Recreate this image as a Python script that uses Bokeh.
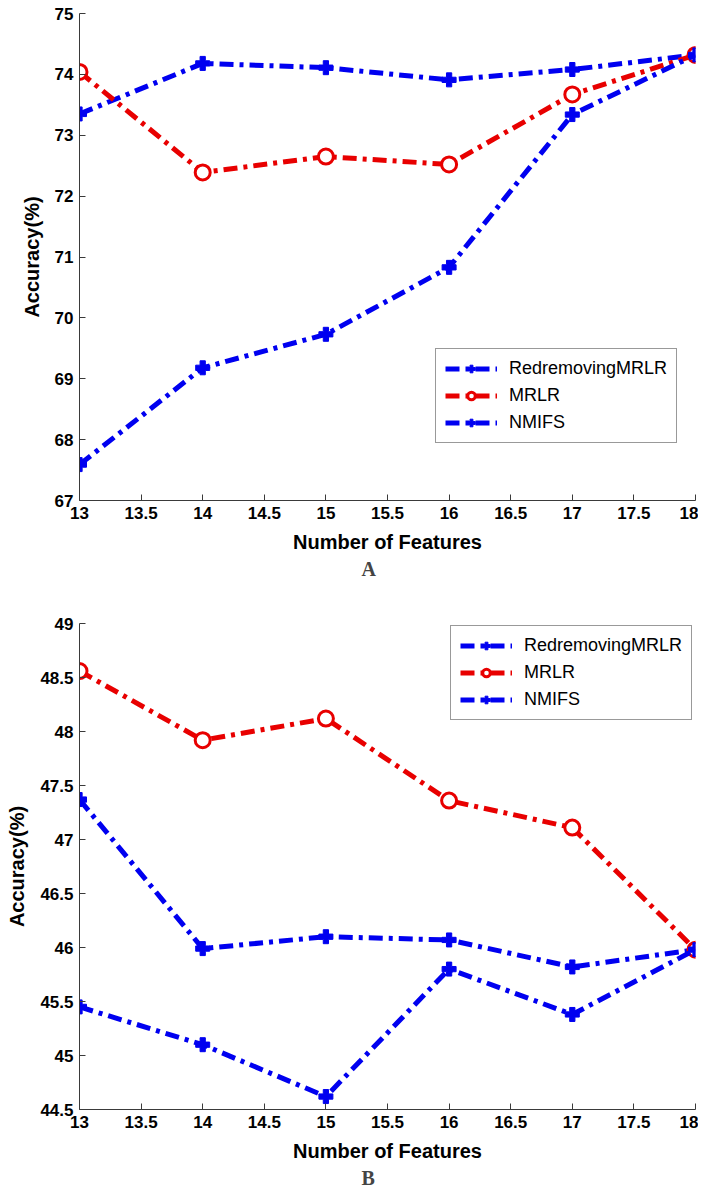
from bokeh.plotting import figure
from bokeh.models import Legend, LegendItem, FixedTicker, NumeralTickFormatter, Title, Range1d
from bokeh.layouts import column
from bokeh.embed import file_html
from bokeh.resources import INLINE

# ---------------- data ----------------
features = [13, 14, 15, 16, 17, 18]
series_names = ["RedremovingMRLR", "MRLR", "NMIFS"]

a_redremoving = [73.35, 74.18, 74.11, 73.91, 74.08, 74.32]
a_mrlr = [74.04, 72.39, 72.65, 72.52, 73.67, 74.32]
a_nmifs = [67.59, 69.18, 69.73, 70.83, 73.34, 74.32]

b_redremoving = [47.37, 45.99, 46.10, 46.07, 45.82, 45.98]
b_mrlr = [48.56, 47.92, 48.12, 47.36, 47.11, 45.98]
b_nmifs = [45.45, 45.10, 44.62, 45.80, 45.38, 45.98]

x_ticks = [13, 13.5, 14, 14.5, 15, 15.5, 16, 16.5, 17, 17.5, 18]
a_y_ticks = [67, 68, 69, 70, 71, 72, 73, 74, 75]
b_y_ticks = [44.5, 45, 45.5, 46, 46.5, 47, 47.5, 48, 48.5, 49]
captions = ["A", "B"]

BLUE = "#0000f0"
RED = "#e80000"
FONT = "Liberation Sans"


def make_fig(ys, yticks, caption, legend_loc, frame_h, b_top, b_bottom):
    p = figure(frame_width=616, frame_height=frame_h,
               x_range=Range1d(13, 18), y_range=Range1d(yticks[0], yticks[-1]),
               output_backend="svg", toolbar_location=None,
               min_border_left=79, min_border_right=3,
               min_border_top=b_top, min_border_bottom=b_bottom)
    p.outline_line_color = None
    p.xgrid.visible = False
    p.ygrid.visible = False
    p.background_fill_color = "white"
    p.border_fill_color = "white"

    for ax, ticks in ((p.xaxis[0], x_ticks), (p.yaxis[0], yticks)):
        ax.ticker = FixedTicker(ticks=ticks)
        ax.formatter = NumeralTickFormatter(format="0.[0]")
        ax.major_tick_in = 6
        ax.major_tick_out = 0
        ax.minor_tick_line_color = None
        ax.axis_line_color = "#3a3a3a"
        ax.major_tick_line_color = "#3a3a3a"
        ax.major_label_text_font = FONT
        ax.major_label_text_font_style = "bold"
        ax.major_label_text_font_size = "17px"
        ax.major_label_text_color = "black"
        ax.major_label_standoff = 6
        ax.axis_label_text_font = FONT
        ax.axis_label_text_font_style = "bold"
        ax.axis_label_text_font_size = "20px"
        ax.axis_label_text_color = "black"
        ax.axis_label_standoff = 9
    p.xaxis.axis_label = "Number of Features"
    p.yaxis.axis_label = "Accuracy(%)"

    colors = [BLUE, RED, BLUE]
    items = []
    for name, y, c in zip(series_names, ys, colors):
        ln = p.line(features, y, line_color=c, line_width=5, line_dash="14 6 4 6")
        if c == RED:
            mk = p.scatter(features, y, marker="circle", size=15, line_color=c,
                           line_width=3, fill_color="white")
        else:
            mk = p.scatter(features, y, marker="plus", size=14, line_color=c,
                           fill_color=c)
        items.append(LegendItem(label=name, renderers=[ln, mk]))

    legend = Legend(items=items, location=legend_loc)
    legend.label_text_font = FONT
    legend.label_text_font_size = "18px"
    legend.label_text_color = "black"
    legend.glyph_width = 52
    legend.glyph_height = 19
    legend.label_height = 19
    legend.spacing = 6
    legend.padding = 9
    legend.margin = 0
    legend.label_standoff = 12
    legend.border_line_color = "#333333"
    legend.border_line_width = 1
    legend.background_fill_color = "white"
    legend.background_fill_alpha = 1
    p.add_layout(legend)

    cap = Title(text=caption, align="left", offset=282, text_font="Liberation Serif",
                text_font_style="bold", text_font_size="20px", standoff=0)
    p.add_layout(cap, "below")
    return p


pa = make_fig([a_redremoving, a_mrlr, a_nmifs], a_y_ticks, captions[0],
              (356, 57), 487, 13, 92)
pb = make_fig([b_redremoving, b_mrlr, b_nmifs], b_y_ticks, captions[1],
              (371, 389), 486, 31, 69)

layout = column(pa, pb, spacing=0)
open("out.html", "w").write(file_html(layout, INLINE))
